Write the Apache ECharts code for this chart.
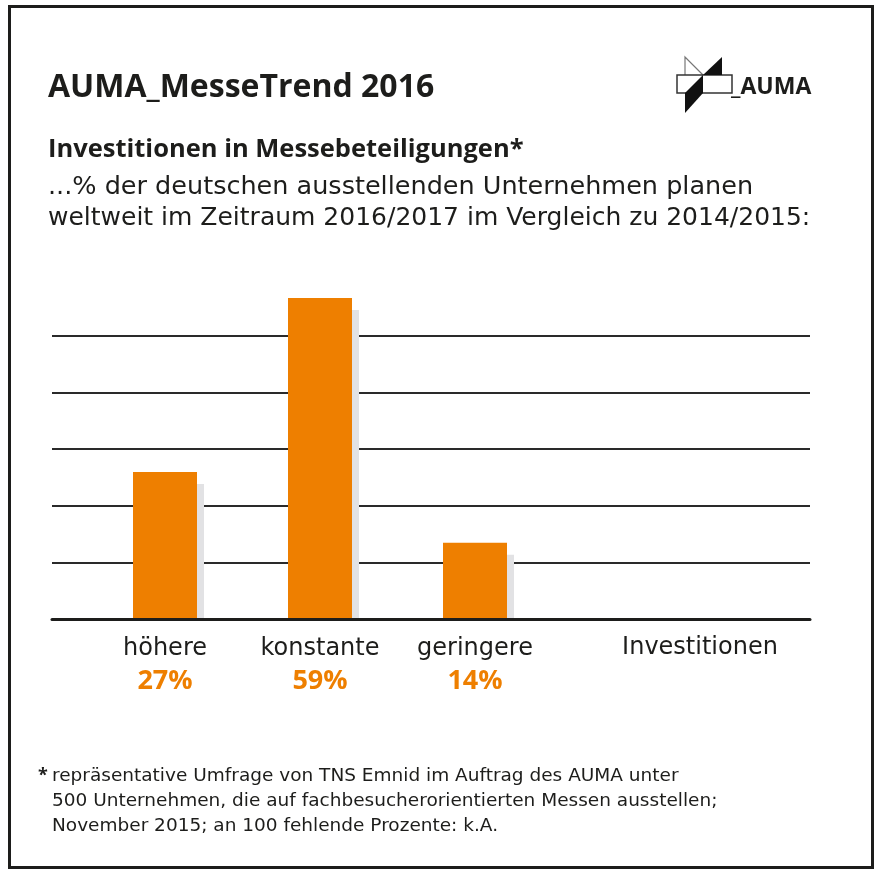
<!DOCTYPE html>
<html>
<head>
<meta charset="utf-8">
<script src="https://cdn.jsdelivr.net/npm/echarts@6/dist/echarts.min.js"></script>
<style>
  html, body { margin: 0; padding: 0; background: #fff; }
  #chart { width: 875px; height: 870px; }
</style>
</head>
<body>
<div id="chart"></div>
<script>
// Daten
const categories = ['höhere', 'konstante', 'geringere'];
const values = [27, 59, 14];
const extraLabel = 'Investitionen';
const titleText = 'AUMA_MesseTrend 2016';
const subTitle = 'Investitionen in Messebeteiligungen*';
const introLines = [
    '...% der deutschen ausstellenden Unternehmen planen',
    'weltweit im Zeitraum 2016/2017 im Vergleich zu 2014/2015:'
];
const footLines = [
    'repräsentative Umfrage von TNS Emnid im Auftrag des AUMA unter',
    '500 Unternehmen, die auf fachbesucherorientierten Messen ausstellen;',
    'November 2015; an 100 fehlende Prozente: k.A.'
];

const BOLD = '"Open Sans", sans-serif';
const REG = '"DejaVu Sans", sans-serif';
const ORANGE = '#ee7f00';
const DARK = '#1d1d1b';

const mychart = echarts.init(document.getElementById('chart'));

// Schatten hinter den Balken
const shadowItem = (params, api) => {
    const top = api.coord([api.value(0), api.value(1)]);
    const base = api.coord([api.value(0), 0]);
    const w = 64;
    return {
        type: 'rect',
        shape: { x: top[0] - w / 2 + 7, y: top[1] + 12, width: w, height: base[1] - top[1] - 12 },
        style: { fill: '#e2e2e4' }
    };
};

const option = {
    backgroundColor: '#fff',
    animation: false,
    textStyle: { fontFamily: REG },
    grid: [
        // Balken
        { left: 87.5, width: 465, top: 336, bottom: 251 },
        // Gitterlinien
        { left: 52, right: 65, top: 336, bottom: 251 }
    ],
    xAxis: [
        {
            type: 'category', gridIndex: 0, data: categories,
            axisLine: { show: false }, axisTick: { show: false },
            axisLabel: {
                margin: 14,
                formatter: (v, i) => '{n|' + v + '}\n{p|' + values[i] + '%}',
                rich: {
                    n: { fontFamily: REG, fontSize: 24, color: DARK, lineHeight: 32 },
                    p: { fontFamily: BOLD, fontSize: 27, fontWeight: 'bold', color: ORANGE, lineHeight: 32 }
                }
            }
        },
        {
            type: 'category', gridIndex: 1, data: [''], z: 10,
            axisLine: { show: true, lineStyle: { color: '#1d1d1b', width: 3 } },
            axisTick: { show: false }, axisLabel: { show: false }
        }
    ],
    yAxis: [
        {
            type: 'value', gridIndex: 0, min: 0, max: 52, interval: 10.4,
            show: false, splitLine: { show: false }
        },
        {
            type: 'value', gridIndex: 1, min: 0, max: 52, interval: 10.4,
            axisLine: { show: false }, axisTick: { show: false }, axisLabel: { show: false },
            splitLine: { show: true, lineStyle: { color: '#2a2a2a', width: 2 } }
        }
    ],
    series: [
        {
            type: 'custom', xAxisIndex: 0, yAxisIndex: 0, z: 1, clip: false,
            renderItem: shadowItem,
            data: values.map((v, i) => [i, v])
        },
        {
            type: 'bar', xAxisIndex: 0, yAxisIndex: 0, z: 2, clip: false,
            barWidth: 64,
            itemStyle: { color: ORANGE },
            data: values
        }
    ],
    graphic: [
        // Rahmen
        { type: 'rect', shape: { x: 9.5, y: 6.5, width: 863, height: 861 }, style: { fill: null, stroke: '#1d1d1b', lineWidth: 3 }, z: 0 },
        // Titel
        { type: 'text', x: 48, y: 88, style: { text: titleText, font: 'bold 32px ' + BOLD, fill: DARK, verticalAlign: 'middle' } },
        { type: 'text', x: 48, y: 150, style: { text: subTitle, font: 'bold 25.5px ' + BOLD, fill: DARK, verticalAlign: 'middle' } },
        { type: 'text', x: 48, y: 187, style: { text: introLines[0], font: '25.5px ' + REG, fill: DARK, verticalAlign: 'middle' } },
        { type: 'text', x: 48, y: 218, style: { text: introLines[1], font: '25px ' + REG, fill: DARK, verticalAlign: 'middle' } },
        // Logo
        { type: 'polyline', shape: { points: [[685, 75], [685, 57], [703, 75]] }, style: { stroke: '#777', lineWidth: 1.2, fill: null } },
        { type: 'rect', shape: { x: 677, y: 75, width: 55, height: 18 }, style: { fill: null, stroke: '#333', lineWidth: 1.5 } },
        { type: 'polygon', shape: { points: [[722, 57], [722, 75], [703, 75]] }, style: { fill: '#111' } },
        { type: 'polygon', shape: { points: [[703, 75], [703, 93], [685, 113], [685, 93]] }, style: { fill: '#111' } },
        { type: 'text', x: 731, y: 87, style: { text: '_AUMA', font: 'bold 23px ' + BOLD, fill: DARK, verticalAlign: 'middle' } },
        // vierte Kategorie
        { type: 'text', x: 700, y: 648, style: { text: extraLabel, font: '24px ' + REG, fill: DARK, align: 'center', verticalAlign: 'middle' } },
        // Fussnote
        { type: 'text', x: 38, y: 776, style: { text: '*', font: 'bold 18px ' + BOLD, fill: DARK, verticalAlign: 'middle' } },
        { type: 'text', x: 52, y: 776, style: { text: footLines[0], font: '18.5px ' + REG, fill: DARK, verticalAlign: 'middle' } },
        { type: 'text', x: 52, y: 801, style: { text: footLines[1], font: '18.5px ' + REG, fill: DARK, verticalAlign: 'middle' } },
        { type: 'text', x: 52, y: 826, style: { text: footLines[2], font: '18.5px ' + REG, fill: DARK, verticalAlign: 'middle' } }
    ]
};
mychart.setOption(option);
</script>
</body>
</html>
